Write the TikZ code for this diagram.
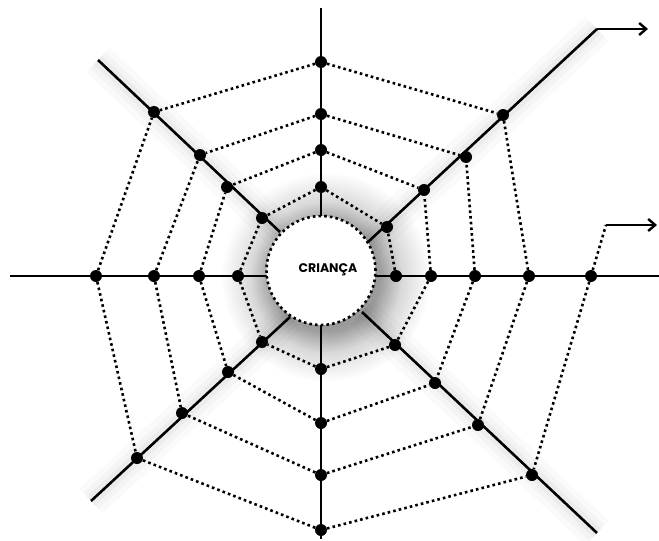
\documentclass[tikz,border=0pt]{standalone}
\usepackage{fontspec}
\newfontfamily\hubfont{Poppins}
\usetikzlibrary{arrows.meta}
\pgfdeclareradialshading{hubglow}{\pgfpoint{0bp}{0bp}}{%
  color(0bp)=(black!55); color(13bp)=(black!38); color(18bp)=(black!15);
  color(25bp)=(white); color(50bp)=(white)}

\begin{document}
\begin{tikzpicture}[
    x=1pt, y=-1pt,
    spoke/.style={line width=2.6pt},
    halo/.style={
        preaction={draw, line width=34pt, black, opacity=0.02},
        preaction={draw, line width=22pt, black, opacity=0.025},
        preaction={draw, line width=12pt, black, opacity=0.03}
    },
    web/.style={line width=2.6pt, dash pattern=on 2.6pt off 3.1pt},
    knot/.style={circle, fill=black, inner sep=0pt, minimum size=12pt},
    hub/.style={circle, fill=white, draw, web, minimum size=109pt},
    arr/.style={line width=2.4pt, -{Straight Barb[length=7pt, width=12pt]}},
]
\useasboundingbox (0,0) rectangle (659,541);

% soft shadow round the centre
\shade[shading=hubglow] (326,277) circle (105);

% Spoke ends
\coordinate (topEnd) at (321,8);   \coordinate (botEnd) at (321,539);
\coordinate (leftEnd) at (10,276); \coordinate (rightEnd) at (659,276);
\coordinate (nwIn) at (280,232);   \coordinate (nwOut) at (98,60);
\coordinate (neIn) at (368,242);   \coordinate (neOut) at (597,29);
\coordinate (seIn) at (362,312);   \coordinate (seOut) at (597,533);
\coordinate (swIn) at (290,317);   \coordinate (swOut) at (91,501);

% Spokes
\draw[spoke] (topEnd) -- (botEnd);
\draw[spoke] (leftEnd) -- (rightEnd);
\draw[spoke, halo] (nwIn) -- (nwOut);
\draw[spoke, halo] (neIn) -- (neOut);
\draw[spoke, halo] (seIn) -- (seOut);
\draw[spoke, halo] (swIn) -- (swOut);

% Knots on the vertical spoke
\node[knot] (n1) at (321,187) {}; \node[knot] (n2) at (321,150) {};
\node[knot] (n3) at (321,114) {}; \node[knot] (n4) at (321,62) {};
\node[knot] (s1) at (321,369) {}; \node[knot] (s2) at (321,423) {};
\node[knot] (s3) at (321,475) {}; \node[knot] (s4) at (321,530) {};

% Knots on the horizontal spoke
\node[knot] (w1) at (238,276) {}; \node[knot] (w2) at (199,276) {};
\node[knot] (w3) at (154,276) {}; \node[knot] (w4) at (96,276) {};
\node[knot] (e1) at (396,276) {}; \node[knot] (e2) at (431,276) {};
\node[knot] (e3) at (475,276) {}; \node[knot] (e4) at (529,276) {};
\node[knot] (e5) at (591,276) {};

% Knots on the diagonals
\node[knot] (nw1) at (262,218) {}; \node[knot] (nw2) at (227,187) {};
\node[knot] (nw3) at (200,155) {}; \node[knot] (nw4) at (154,112) {};
\node[knot] (ne1) at (387,227) {}; \node[knot] (ne2) at (424,190) {};
\node[knot] (ne3) at (466,157) {}; \node[knot] (ne4) at (503,115) {};
\node[knot] (se1) at (395,345) {}; \node[knot] (se2) at (435,383) {};
\node[knot] (se3) at (478,425) {}; \node[knot] (se4) at (532,475) {};
\node[knot] (sw1) at (262,342) {}; \node[knot] (sw2) at (228,372) {};
\node[knot] (sw3) at (182,413) {}; \node[knot] (sw4) at (137,458) {};

% Web: upper left
\draw[web] (n1) -- (nw1); \draw[web] (n2) -- (nw2); \draw[web] (n3) -- (nw3); \draw[web] (n4) -- (nw4);
\draw[web] (w1) -- (nw1); \draw[web] (w2) -- (nw2); \draw[web] (w3) -- (nw3); \draw[web] (w4) -- (nw4);

% Web: lower left
\draw[web] (w1) -- (sw1); \draw[web] (w2) -- (sw2); \draw[web] (w3) -- (sw3); \draw[web] (w4) -- (sw4);
\draw[web] (s1) -- (sw1); \draw[web] (s2) -- (sw2); \draw[web] (s3) -- (sw3); \draw[web] (s4) -- (sw4);

% Web: lower right (shifted one knot outwards)
\draw[web] (s1) -- (se1); \draw[web] (s2) -- (se2); \draw[web] (s3) -- (se3); \draw[web] (s4) -- (se4);
\draw[web] (e2) -- (se1); \draw[web] (e3) -- (se2); \draw[web] (e4) -- (se3); \draw[web] (e5) -- (se4);

% Web: upper right
\draw[web] (n1) -- (ne1); \draw[web] (n2) -- (ne2); \draw[web] (n3) -- (ne3); \draw[web] (n4) -- (ne4);
\draw[web] (e1) -- (ne1); \draw[web] (e2) -- (ne2); \draw[web] (e3) -- (ne3); \draw[web] (e4) -- (ne4);

% Arrows leaving the web
\coordinate (kink) at (606,225);
\draw[web] (e5) -- (kink);
\draw[arr] (kink) -- (657,225);
\draw[arr] (neOut) -- (648,29);

% Centre
\node[hub] (crianca) at (321,270.5) {};
\node[font=\hubfont\bfseries\fontsize{12.5}{14}\selectfont] (name) at (328,270) {CRIANÇA};

\end{tikzpicture}
\end{document}
